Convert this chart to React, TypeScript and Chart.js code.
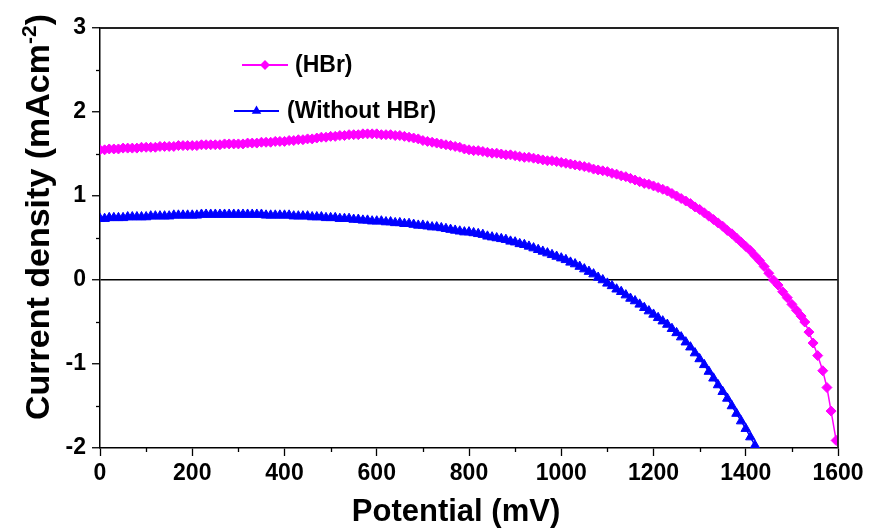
import { useEffect, useRef } from "react";
import { Chart, registerables } from "chart.js";

Chart.register(...registerables);

const FONT = '"Liberation Sans", Arial, sans-serif';

// Potential (mV) and current density (mA cm^-2) for the HBr cell
const hbrPotential = [
  0, 10, 20, 30, 40, 50, 60, 70, 80, 90,
  100, 110, 120, 130, 140, 150, 160, 170, 180, 190,
  200, 210, 220, 230, 240, 250, 260, 270, 280, 290,
  300, 310, 320, 330, 340, 350, 360, 370, 380, 390,
  400, 410, 420, 430, 440, 450, 460, 470, 480, 490,
  500, 510, 520, 530, 540, 550, 560, 570, 580, 590,
  600, 610, 620, 630, 640, 650, 660, 670, 680, 690,
  700, 710, 720, 730, 740, 750, 760, 770, 780, 790,
  800, 810, 820, 830, 840, 850, 860, 870, 880, 890,
  900, 910, 920, 930, 940, 950, 960, 970, 980, 990,
  1000, 1010, 1020, 1030, 1040, 1050, 1060, 1070, 1080, 1090,
  1100, 1110, 1120, 1130, 1140, 1150, 1160, 1170, 1180, 1190,
  1200, 1210, 1220, 1230, 1240, 1250, 1260, 1270, 1280, 1290,
  1300, 1310, 1320, 1330, 1340, 1350, 1360, 1370, 1380, 1390,
  1400, 1410, 1420, 1430, 1440, 1450, 1460,
  1470, 1480, 1490, 1500, 1510, 1520, 1528, 1537, 1546, 1556, 1567, 1576, 1585, 1596,
];
const hbrCurrent = [
  1.55, 1.55, 1.56, 1.56, 1.56, 1.57, 1.57, 1.57, 1.57, 1.58,
  1.58, 1.58, 1.58, 1.59, 1.59, 1.59, 1.59, 1.6, 1.6, 1.6,
  1.6, 1.6, 1.61, 1.61, 1.61, 1.61, 1.61, 1.62, 1.62, 1.62,
  1.62, 1.62, 1.63, 1.63, 1.63, 1.64, 1.64, 1.64, 1.65, 1.65,
  1.65, 1.66, 1.66, 1.67, 1.67, 1.68, 1.68, 1.69, 1.7, 1.7,
  1.71, 1.71, 1.72, 1.72, 1.73, 1.73, 1.73, 1.74, 1.74, 1.74,
  1.74, 1.73, 1.73, 1.73, 1.72, 1.72, 1.71, 1.7, 1.69, 1.68,
  1.66, 1.65, 1.64, 1.63, 1.62, 1.61, 1.6, 1.59, 1.58, 1.56,
  1.55, 1.54, 1.54, 1.53, 1.52, 1.51, 1.51, 1.5, 1.49, 1.49,
  1.48, 1.47, 1.46, 1.46, 1.45, 1.44, 1.43, 1.42, 1.42, 1.41,
  1.4, 1.39, 1.38, 1.37, 1.36, 1.35, 1.34, 1.32, 1.31, 1.3,
  1.29, 1.27, 1.26, 1.24, 1.23, 1.21, 1.19, 1.17, 1.15, 1.14,
  1.12, 1.1, 1.08, 1.06, 1.03, 1.0, 0.97, 0.94, 0.91, 0.87,
  0.84, 0.8, 0.76, 0.72, 0.68, 0.64, 0.59, 0.55, 0.5, 0.45,
  0.4, 0.35, 0.29, 0.23, 0.16, 0.08, 0.0,
  -0.06, -0.14, -0.21, -0.29, -0.36, -0.43, -0.5, -0.62, -0.75, -0.9, -1.08, -1.28, -1.56, -1.91,
];

// Potential (mV) and current density (mA cm^-2) without HBr
const plainPotential = [
  0, 10, 20, 30, 40, 50, 60, 70, 80, 90,
  100, 110, 120, 130, 140, 150, 160, 170, 180, 190,
  200, 210, 220, 230, 240, 250, 260, 270, 280, 290,
  300, 310, 320, 330, 340, 350, 360, 370, 380, 390,
  400, 410, 420, 430, 440, 450, 460, 470, 480, 490,
  500, 510, 520, 530, 540, 550, 560, 570, 580, 590,
  600, 610, 620, 630, 640, 650, 660, 670, 680, 690,
  700, 710, 720, 730, 740, 750, 760, 770, 780, 790,
  800, 810, 820, 830, 840, 850, 860, 870, 880, 890,
  900, 910, 920, 930, 940, 950, 960, 970, 980, 990,
  1000, 1010, 1020, 1030, 1040, 1050, 1060, 1070, 1080, 1090,
  1100, 1110, 1120, 1130, 1140, 1150, 1160, 1170, 1180, 1190,
  1200, 1210, 1220, 1230, 1240, 1250, 1260, 1270, 1280, 1290,
  1300, 1310, 1320, 1330, 1340, 1350, 1360, 1370, 1380, 1390,
  1400, 1410, 1420,
];
const plainCurrent = [
  0.73, 0.73, 0.74, 0.74, 0.74, 0.74, 0.75, 0.75, 0.75, 0.75,
  0.75, 0.76, 0.76, 0.76, 0.76, 0.76, 0.77, 0.77, 0.77, 0.77,
  0.77, 0.77, 0.78, 0.78, 0.78, 0.78, 0.78, 0.78, 0.78, 0.78,
  0.78, 0.78, 0.78, 0.78, 0.78, 0.78, 0.77, 0.77, 0.77, 0.77,
  0.77, 0.77, 0.76, 0.76, 0.76, 0.76, 0.75, 0.75, 0.75, 0.74,
  0.74, 0.74, 0.73, 0.73, 0.73, 0.72, 0.72, 0.71, 0.71, 0.7,
  0.7, 0.7, 0.69, 0.69, 0.68, 0.68, 0.67, 0.67, 0.66, 0.65,
  0.65, 0.64, 0.63, 0.63, 0.62, 0.61, 0.6, 0.59, 0.58, 0.57,
  0.57, 0.56, 0.55, 0.54, 0.52, 0.51, 0.5, 0.49, 0.48, 0.46,
  0.45, 0.43, 0.42, 0.4, 0.38, 0.36, 0.34, 0.32, 0.3, 0.28,
  0.26, 0.24, 0.21, 0.19, 0.16, 0.13, 0.1, 0.07, 0.03, 0.0,
  -0.04, -0.07, -0.11, -0.14, -0.18, -0.22, -0.25, -0.29, -0.33, -0.37,
  -0.41, -0.45, -0.49, -0.53, -0.58, -0.63, -0.68, -0.74, -0.8, -0.87,
  -0.94, -1.01, -1.09, -1.17, -1.25, -1.33, -1.41, -1.5, -1.59, -1.68,
  -1.77, -1.87, -1.97,
];

const seriesLabels = ["(HBr)", "(Without HBr)"];
const seriesColors = ["#ff00ff", "#0000ff"];

// Axis ranges and labelled tick values
const xRange = [0, 1600];
const yRange = [-2, 3];
const xMajorTicks = [0, 200, 400, 600, 800, 1000, 1200, 1400, 1600];
const yMajorTicks = [-2, -1, 0, 1, 2, 3];

const xTitle = "Potential (mV)";
const yTitleMain = "Current density (mAcm";
const yTitleSup = "-2";
const yTitleEnd = ")";

const pairs = (xs: number[], ys: number[]) => xs.map((x, i) => ({ x, y: ys[i] }));

// Short outward ticks between the labelled ones
const minorTicksPlugin = {
  id: "minorTicks",
  afterDraw(chart: any) {
    const { ctx, chartArea, scales } = chart;
    ctx.save();
    ctx.strokeStyle = "#000";
    ctx.lineWidth = 1.3;
    for (const t of scales.x.ticks) {
      if (xMajorTicks.includes(t.value)) continue;
      const px = Math.round(scales.x.getPixelForValue(t.value)) + 0.5;
      ctx.beginPath();
      ctx.moveTo(px, chartArea.bottom);
      ctx.lineTo(px, chartArea.bottom + 4);
      ctx.stroke();
    }
    for (const t of scales.y.ticks) {
      if (yMajorTicks.includes(t.value)) continue;
      const py = Math.round(scales.y.getPixelForValue(t.value)) + 0.5;
      ctx.beginPath();
      ctx.moveTo(chartArea.left - 4, py);
      ctx.lineTo(chartArea.left, py);
      ctx.stroke();
    }
    ctx.restore();
  },
};

// Closes the plot box on the top and right sides
const framePlugin = {
  id: "frame",
  afterDraw(chart: any) {
    const { ctx, chartArea } = chart;
    ctx.save();
    ctx.strokeStyle = "#222";
    ctx.lineWidth = 1.8;
    ctx.beginPath();
    ctx.moveTo(chartArea.left, chartArea.top);
    ctx.lineTo(chartArea.right, chartArea.top);
    ctx.lineTo(chartArea.right, chartArea.bottom);
    ctx.stroke();
    ctx.restore();
  },
};

// Axis titles; the y title carries a raised exponent
const titlesPlugin = {
  id: "titles",
  afterDraw(chart: any) {
    const { ctx, chartArea } = chart;
    ctx.save();
    ctx.fillStyle = "#000";
    ctx.textBaseline = "alphabetic";

    ctx.font = `bold 31px ${FONT}`;
    ctx.textAlign = "center";
    ctx.fillText(xTitle, chartArea.left + 356, chartArea.bottom + 73);

    ctx.translate(chartArea.left - 63, chartArea.top + 189);
    ctx.rotate(-Math.PI / 2);
    ctx.textAlign = "left";
    const mainFont = `bold 34px ${FONT}`;
    const supFont = `bold 21px ${FONT}`;
    ctx.font = mainFont;
    const w1 = ctx.measureText(yTitleMain).width;
    const w3 = ctx.measureText(yTitleEnd).width;
    ctx.font = supFont;
    const w2 = ctx.measureText(yTitleSup).width;
    let x = -(w1 + w2 + w3) / 2;
    const base = 12;
    ctx.font = mainFont;
    ctx.fillText(yTitleMain, x, base);
    x += w1;
    ctx.font = supFont;
    ctx.fillText(yTitleSup, x, base - 13);
    x += w2;
    ctx.font = mainFont;
    ctx.fillText(yTitleEnd, x, base);
    ctx.restore();
  },
};

// Legend drawn inside the plot box
const legendPlugin = {
  id: "insideLegend",
  afterDraw(chart: any) {
    const { ctx, chartArea } = chart;
    const rows = [
      { x0: 142, x1: 188, y: 37, tx: 195 },
      { x0: 134, x1: 179, y: 83, tx: 187 },
    ];
    ctx.save();
    rows.forEach((r, i) => {
      const color = seriesColors[i];
      const y = chartArea.top + r.y;
      const x0 = chartArea.left + r.x0;
      const x1 = chartArea.left + r.x1;
      ctx.strokeStyle = color;
      ctx.fillStyle = color;
      ctx.lineWidth = 2;
      ctx.beginPath();
      ctx.moveTo(x0, y);
      ctx.lineTo(x1, y);
      ctx.stroke();
      const cx = (x0 + x1) / 2;
      ctx.beginPath();
      if (i === 0) {
        const r0 = 5;
        ctx.moveTo(cx, y - r0);
        ctx.lineTo(cx + r0, y);
        ctx.lineTo(cx, y + r0);
        ctx.lineTo(cx - r0, y);
      } else {
        const r0 = 5.5;
        ctx.moveTo(cx, y - r0);
        ctx.lineTo(cx + r0 * 0.866, y + r0 * 0.5);
        ctx.lineTo(cx - r0 * 0.866, y + r0 * 0.5);
      }
      ctx.closePath();
      ctx.fill();
      ctx.fillStyle = "#000";
      ctx.font = `bold 23px ${FONT}`;
      ctx.textAlign = "left";
      ctx.textBaseline = "middle";
      ctx.fillText(seriesLabels[i], chartArea.left + r.tx, y + 1);
    });
    ctx.restore();
  },
};

export default function App() {
  const canvasRef = useRef<HTMLCanvasElement | null>(null);

  useEffect(() => {
    if (!canvasRef.current) return;
    Chart.defaults.color = "#000";
    const chart = new Chart(canvasRef.current, {
      type: "scatter",
      data: {
        datasets: [
          {
            label: seriesLabels[0],
            data: pairs(hbrPotential, hbrCurrent),
            showLine: true,
            borderColor: seriesColors[0],
            backgroundColor: seriesColors[0],
            borderWidth: 1.5,
            pointStyle: "rectRot",
            pointRadius: 5,
            pointBorderWidth: 1,
          },
          {
            label: seriesLabels[1],
            data: pairs(plainPotential, plainCurrent),
            showLine: true,
            borderColor: seriesColors[1],
            backgroundColor: seriesColors[1],
            borderWidth: 1.5,
            pointStyle: "triangle",
            pointRadius: 5.5,
            pointBorderWidth: 1,
          },
        ],
      },
      options: {
        animation: false,
        responsive: true,
        maintainAspectRatio: false,
        layout: { padding: { top: 28, right: 40, left: 0, bottom: 0 } },
        plugins: {
          legend: { display: false },
          tooltip: { enabled: false },
        },
        scales: {
          x: {
            type: "linear",
            min: xRange[0],
            max: xRange[1],
            afterFit: (s: any) => {
              s.height = 81;
            },
            ticks: {
              stepSize: 100,
              autoSkip: false,
              maxRotation: 0,
              padding: 4,
              font: { family: FONT, size: 23, weight: "bold" },
              color: "#000",
              callback: (v: any) => (xMajorTicks.includes(Number(v)) ? String(v) : ""),
            },
            grid: {
              drawOnChartArea: false,
              tickLength: 8,
              tickWidth: 1.3,
              tickColor: (c: any) => (xMajorTicks.includes(c.tick?.value) ? "#000" : "rgba(0,0,0,0)"),
            },
            border: { display: true, color: "#000", width: 1.5 },
          },
          y: {
            type: "linear",
            min: yRange[0],
            max: yRange[1],
            afterFit: (s: any) => {
              s.width = 100;
            },
            ticks: {
              stepSize: 0.5,
              autoSkip: false,
              padding: 6,
              font: { family: FONT, size: 23, weight: "bold" },
              color: "#000",
              callback: (v: any) => (yMajorTicks.includes(Number(v)) ? String(v) : ""),
            },
            grid: {
              drawOnChartArea: true,
              color: (c: any) => (c.tick?.value === 0 ? "#000" : "rgba(0,0,0,0)"),
              lineWidth: 1.5,
              tickLength: 8,
              tickWidth: 1.3,
              tickColor: (c: any) => (yMajorTicks.includes(c.tick?.value) ? "#000" : "rgba(0,0,0,0)"),
            },
            border: { display: true, color: "#000", width: 1.5 },
          },
        },
      },
      plugins: [minorTicksPlugin, framePlugin, titlesPlugin, legendPlugin],
    } as any);
    return () => chart.destroy();
  }, []);

  return (
    <div style={{ position: "absolute", left: 0, top: 0, width: 878, height: 529, background: "#fff" }}>
      <canvas ref={canvasRef} />
    </div>
  );
}
